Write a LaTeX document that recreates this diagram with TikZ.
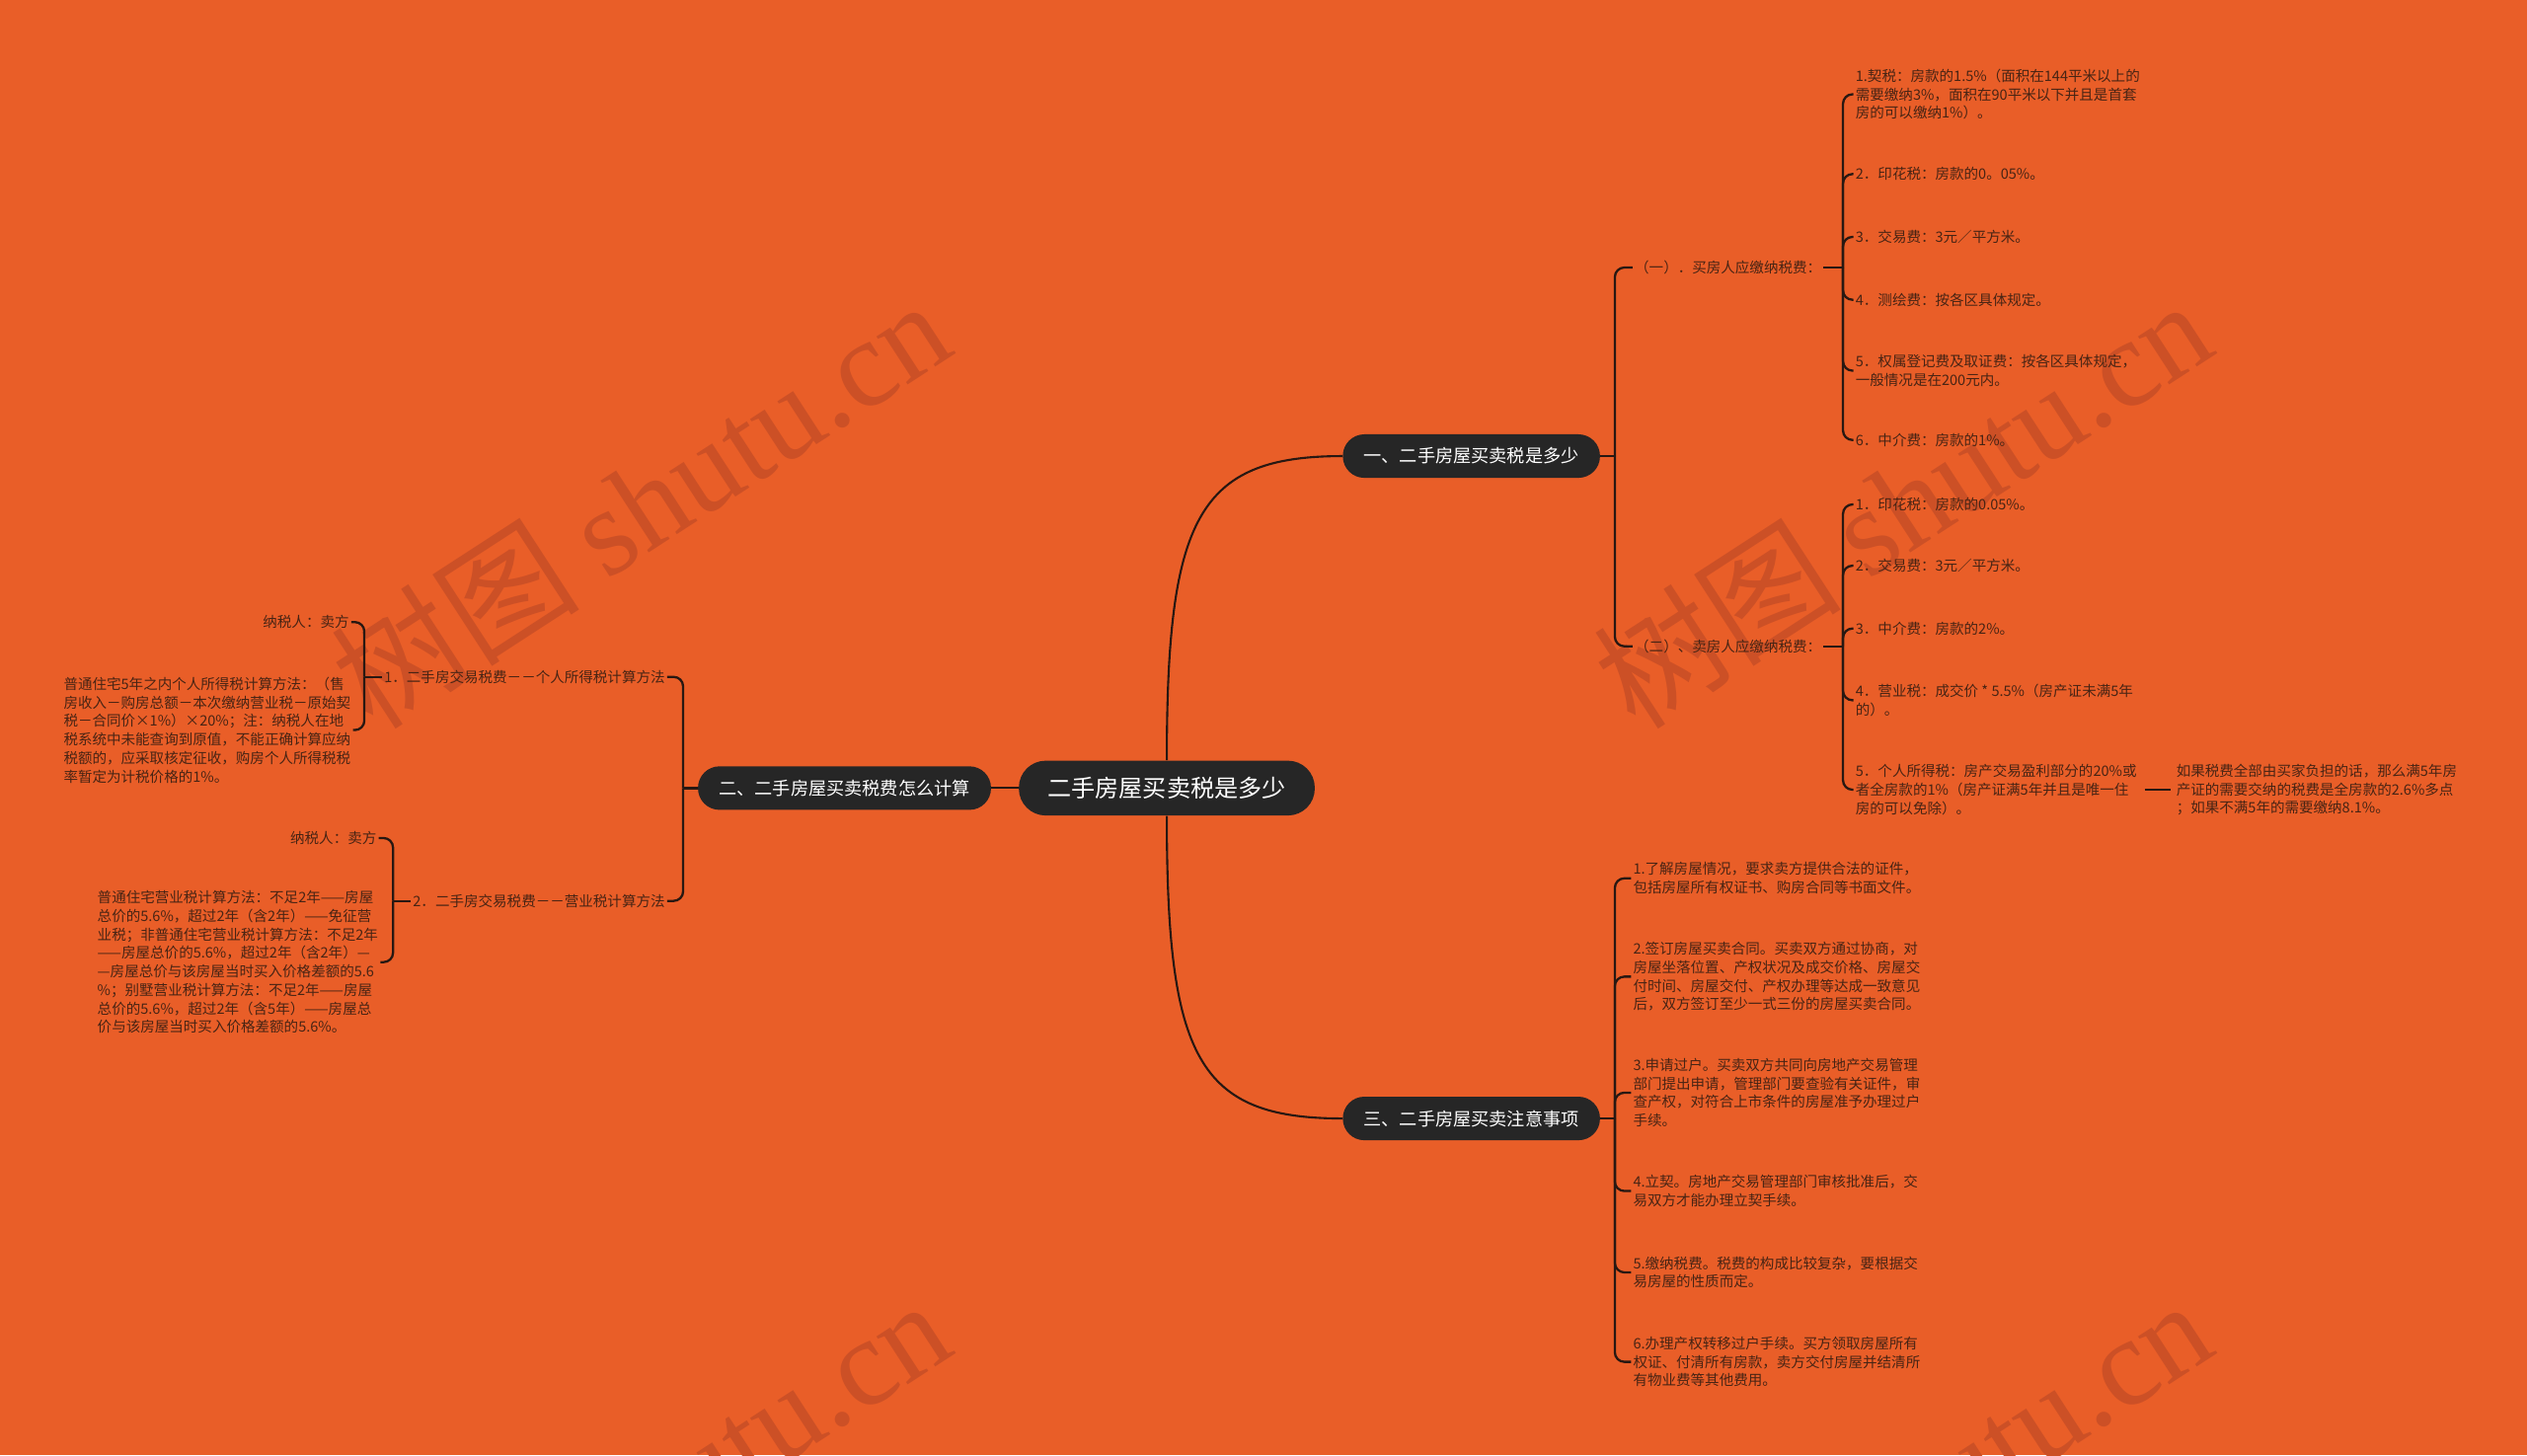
\documentclass[tikz,border=0pt]{standalone}
\usepackage{fontspec}
\setmainfont{Noto Sans CJK SC}
\newfontfamily\wmfont{Liberation Serif}
\usepackage{xcolor}
\definecolor{bgc}{RGB}{233,94,40}
\definecolor{pillc}{RGB}{38,38,38}
\definecolor{linec}{RGB}{40,24,18}
\definecolor{textc}{RGB}{72,36,20}
\definecolor{wmc}{RGB}{204,80,38}
\tikzset{
  pill/.style={fill=pillc, text=white, align=center, inner ysep=0pt},
  root/.style={pill, minimum height=1.02cm, inner xsep=0.54cm, rounded corners=0.5cm, font=\fontsize{12.6}{14}\selectfont},
  topic/.style={pill, minimum height=0.81cm, inner xsep=0.39cm, rounded corners=0.4cm, font=\fontsize{9.5}{11}\selectfont},
  leaf/.style={text=textc, align=left, inner sep=1pt, font=\fontsize{7.6}{9.8}\selectfont},
  wmark/.style={text=wmc, inner sep=0pt, font=\fontsize{66}{66}\selectfont},
  trunk/.style={draw=linec, line width=1.1pt},
  twig/.style={draw=linec, line width=1.2pt, rounded corners=5pt}
}

\begin{document}
\begin{tikzpicture}[x=0.03cm, y=-0.03cm]
  \fill[bgc] (0,0) rectangle (1568,903);
  \useasboundingbox (0,0) rectangle (1568,903);

  % watermark
  \begin{scope}
    \clip (0,0) rectangle (1568,903);
    \foreach \wx/\wy in {397/312, 1180/312, 397/932, 1180/932}
      \node[wmark, rotate=33] at (\wx,\wy) {树图 {\wmfont shutu.cn}};
  \end{scope}

  \node[root] (root) at (724,489) {二手房屋买卖税是多少};
  \node[topic] (b1) at (913,283) {一、二手房屋买卖税是多少};
  \node[topic] (b2) at (524,489) {二、二手房屋买卖税费怎么计算};
  \node[topic] (b3) at (913,694) {三、二手房屋买卖注意事项};

  \node[leaf, anchor=west] (s1) at (1013,166) {（一）．买房人应缴纳税费：};
  \node[leaf, anchor=west] (s2) at (1013,401) {（二）、卖房人应缴纳税费：};

  % buyer side
  \node[leaf, anchor=west] (a1) at (1150,58.5) {1.契税：房款的1.5\%（面积在144平米以上的\\需要缴纳3\%，面积在90平米以下并且是首套\\房的可以缴纳1\%）。};
  \node[leaf, anchor=west] (a2) at (1150,108) {2．印花税：房款的0。05\%。};
  \node[leaf, anchor=west] (a3) at (1150,147) {3．交易费：3元／平方米。};
  \node[leaf, anchor=west] (a4) at (1150,186) {4．测绘费：按各区具体规定。};
  \node[leaf, anchor=west] (a5) at (1150,230) {5．权属登记费及取证费：按各区具体规定，\\一般情况是在200元内。};
  \node[leaf, anchor=west] (a6) at (1150,273) {6．中介费：房款的1\%。};

  % seller side
  \node[leaf, anchor=west] (d1) at (1150,313) {1．印花税：房款的0.05\%。};
  \node[leaf, anchor=west] (d2) at (1150,351) {2．交易费：3元／平方米。};
  \node[leaf, anchor=west] (d3) at (1150,390) {3．中介费：房款的2\%。};
  \node[leaf, anchor=west] (d4) at (1150,434.5) {4．营业税：成交价 * 5.5\%（房产证未满5年\\的）。};
  \node[leaf, anchor=west] (d5) at (1150,490) {5．个人所得税：房产交易盈利部分的20\%或\\者全房款的1\%（房产证满5年并且是唯一住\\房的可以免除）。};
  \node[leaf, anchor=west] (e1) at (1349,490) {如果税费全部由买家负担的话，那么满5年房\\产证的需要交纳的税费是全房款的2.6\%多点\\；如果不满5年的需要缴纳8.1\%。};

  % notes
  \node[leaf, anchor=west] (f1) at (1012,545) {1.了解房屋情况，要求卖方提供合法的证件，\\包括房屋所有权证书、购房合同等书面文件。};
  \node[leaf, anchor=west] (f2) at (1012,606) {2.签订房屋买卖合同。买卖双方通过协商，对\\房屋坐落位置、产权状况及成交价格、房屋交\\付时间、房屋交付、产权办理等达成一致意见\\后，双方签订至少一式三份的房屋买卖合同。};
  \node[leaf, anchor=west] (f3) at (1012,678) {3.申请过户。买卖双方共同向房地产交易管理\\部门提出申请，管理部门要查验有关证件，审\\查产权，对符合上市条件的房屋准予办理过户\\手续。};
  \node[leaf, anchor=west] (f4) at (1012,739) {4.立契。房地产交易管理部门审核批准后，交\\易双方才能办理立契手续。};
  \node[leaf, anchor=west] (f5) at (1012,789.5) {5.缴纳税费。税费的构成比较复杂，要根据交\\易房屋的性质而定。};
  \node[leaf, anchor=west] (f6) at (1012,845) {6.办理产权转移过户手续。买方领取房屋所有\\权证、付清所有房款，卖方交付房屋并结清所\\有物业费等其他费用。};

  % left side
  \node[leaf, anchor=east] (g1) at (414,420) {1．二手房交易税费－－个人所得税计算方法};
  \node[leaf, anchor=east] (g2) at (414,559) {2．二手房交易税费－－营业税计算方法};
  \node[leaf, anchor=east] (h1) at (218,386) {纳税人：卖方};
  \node[leaf, anchor=east] (h2) at (219,453) {普通住宅5年之内个人所得税计算方法：（售\\房收入－购房总额－本次缴纳营业税－原始契\\税－合同价×1\%）×20\%；注：纳税人在地\\税系统中未能查询到原值，不能正确计算应纳\\税额的，应采取核定征收，购房个人所得税税\\率暂定为计税价格的1\%。};
  \node[leaf, anchor=east] (k1) at (235,520) {纳税人：卖方};
  \node[leaf, anchor=east] (k2) at (236,597) {普通住宅营业税计算方法：不足2年——房屋\\总价的5.6\%，超过2年（含2年）——免征营\\业税；非普通住宅营业税计算方法：不足2年\\——房屋总价的5.6\%，超过2年（含2年）—\\—房屋总价与该房屋当时买入价格差额的5.6\\\%；别墅营业税计算方法：不足2年——房屋\\总价的5.6\%，超过2年（含5年）——房屋总\\价与该房屋当时买入价格差额的5.6\%。};

  % main curves
  \draw[trunk] (root.north) .. controls +(0,-150) and +(-90,0) .. (b1.west);
  \draw[trunk] (root.south) .. controls +(0,150) and +(-90,0) .. (b3.west);
  \draw[trunk] (root.west) -- (b2.east);

  % brackets
  \path (b1.east) ++(9,0) coordinate (j1);
  \draw[twig] (b1.east) -- (j1);
  \foreach \c in {s1,s2} \draw[twig] (j1) |- (\c.west);

  \path (s1.east) ++(12,0) coordinate (j2);
  \draw[twig] (s1.east) -- (j2);
  \foreach \c in {a1,a2,a3,a4,a5,a6} \draw[twig] (j2) |- (\c.west);

  \path (s2.east) ++(12,0) coordinate (j3);
  \draw[twig] (s2.east) -- (j3);
  \foreach \c in {d1,d2,d3,d4,d5} \draw[twig] (j3) |- (\c.west);
  \draw[twig, shorten <=3pt, shorten >=2pt] (d5.east) -- (e1.west);

  \path (b3.east) ++(9,0) coordinate (j4);
  \draw[twig] (b3.east) -- (j4);
  \foreach \c in {f1,f2,f3,f4,f5,f6} \draw[twig] (j4) |- (\c.west);

  \path (b2.west) ++(-9,0) coordinate (j5);
  \draw[twig] (b2.west) -- (j5);
  \foreach \c in {g1,g2} \draw[twig] (j5) |- (\c.east);

  \path (g1.west) ++(-11,0) coordinate (j6);
  \draw[twig] (g1.west) -- (j6);
  \foreach \c in {h1,h2} \draw[twig] (j6) |- (\c.east);

  \path (g2.west) ++(-11,0) coordinate (j7);
  \draw[twig] (g2.west) -- (j7);
  \foreach \c in {k1,k2} \draw[twig] (j7) |- (\c.east);
\end{tikzpicture}
\end{document}
